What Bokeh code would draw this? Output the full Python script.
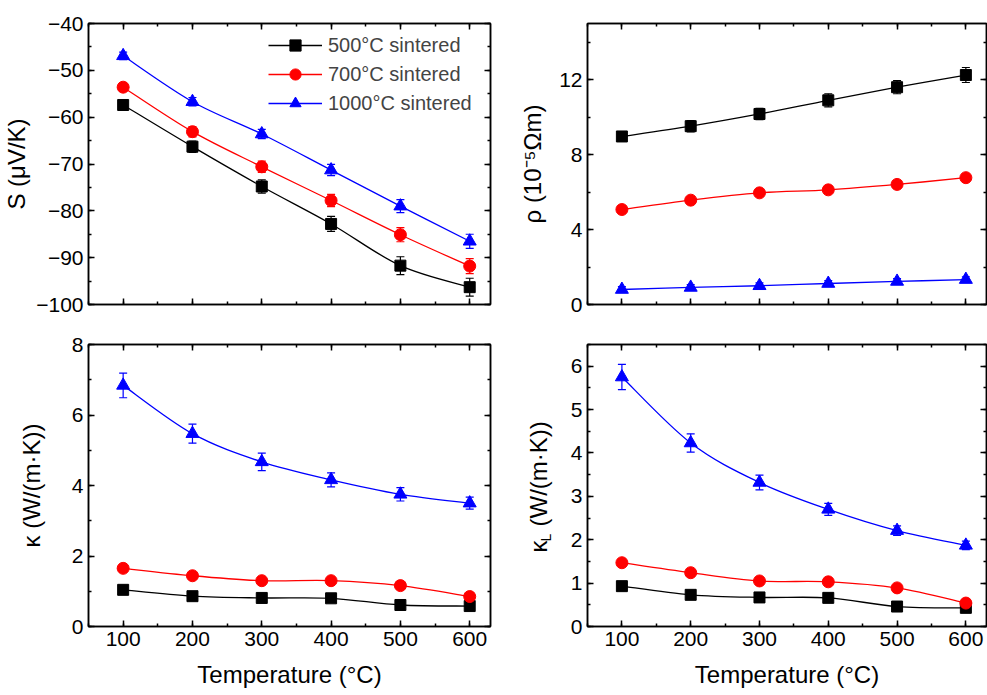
import numpy as np
from bokeh.plotting import figure
from bokeh.layouts import column, row
from bokeh.models import (ColumnDataSource, Whisker, TeeHead, LinearAxis,
                          SingleIntervalTicker, Range1d, Legend, LegendItem, Label)
from bokeh.embed import file_html
from bokeh.resources import INLINE

# ---------------- data ----------------
temps = [100, 200, 300, 400, 500, 600]
series_names = ["500°C sintered", "700°C sintered", "1000°C sintered"]
colors = ["black", "#ff0000", "#0000ff"]
markers = ["square", "circle", "triangle"]
marker_sizes = [11, 12, 13]

S_500 = [-57.4, -66.3, -74.8, -82.8, -91.7, -96.3]
S_700 = [-53.6, -63.1, -70.6, -77.8, -85.1, -91.8]
S_1000 = [-46.9, -56.7, -63.6, -71.3, -79.0, -86.5]
S_500_err = [1.0, 1.2, 1.4, 1.6, 1.9, 1.9]
S_700_err = [0.9, 1.1, 1.2, 1.3, 1.5, 1.6]
S_1000_err = [0.8, 0.9, 1.0, 1.2, 1.4, 1.5]

rho_500 = [8.97, 9.52, 10.17, 10.90, 11.60, 12.25]
rho_700 = [5.07, 5.57, 5.96, 6.12, 6.41, 6.77]
rho_1000 = [0.80, 0.91, 1.00, 1.12, 1.23, 1.33]
rho_500_err = [0.25, 0.30, 0.30, 0.35, 0.35, 0.40]
rho_700_err = [0.10, 0.10, 0.10, 0.10, 0.10, 0.10]
rho_1000_err = [0.15, 0.15, 0.15, 0.15, 0.15, 0.15]

kappa_500 = [1.04, 0.86, 0.81, 0.80, 0.61, 0.58]
kappa_700 = [1.65, 1.44, 1.30, 1.30, 1.16, 0.85]
kappa_1000 = [6.84, 5.47, 4.67, 4.16, 3.75, 3.50]
kappa_500_err = [0.05, 0.05, 0.05, 0.05, 0.05, 0.05]
kappa_700_err = [0.05, 0.05, 0.05, 0.05, 0.05, 0.05]
kappa_1000_err = [0.35, 0.27, 0.25, 0.20, 0.19, 0.17]

kL_500 = [0.93, 0.73, 0.67, 0.66, 0.46, 0.43]
kL_700 = [1.47, 1.24, 1.05, 1.03, 0.89, 0.54]
kL_1000 = [5.75, 4.23, 3.32, 2.70, 2.21, 1.87]
kL_500_err = [0.04, 0.04, 0.04, 0.04, 0.04, 0.04]
kL_700_err = [0.04, 0.04, 0.04, 0.04, 0.04, 0.04]
kL_1000_err = [0.29, 0.21, 0.17, 0.14, 0.11, 0.10]

x_ticks_interval = 100
FONT = "Liberation Sans"


def style_axis(ax, interval, labels=True, label_size="21px"):
    ax.ticker = SingleIntervalTicker(interval=interval, num_minor_ticks=2)
    ax.axis_line_color = "black"
    ax.axis_line_width = 1.5
    ax.major_tick_in = 6
    ax.major_tick_out = 0
    ax.minor_tick_in = 3
    ax.minor_tick_out = 0
    ax.major_tick_line_color = "black"
    ax.minor_tick_line_color = "black"
    ax.major_tick_line_width = 1.5
    ax.minor_tick_line_width = 1.5
    ax.major_label_text_font = FONT
    if labels:
        ax.major_label_text_color = "black"
        ax.major_label_text_font_size = label_size
        ax.major_label_standoff = 5
    else:
        ax.major_label_text_color = None
        ax.major_label_text_font_size = "0px"
        ax.major_label_standoff = 0
    ax.axis_label_text_font = FONT
    ax.axis_label_text_font_size = "24px"
    ax.axis_label_text_font_style = "normal"
    ax.axis_label_text_color = "black"


def make_fig(w, h, yr, yint, borders, xlabels, ylabel, ylabel_standoff, xlabel_standoff=12):
    bl, br, bt, bb = borders
    p = figure(width=w, height=h, x_range=Range1d(50, 630), y_range=Range1d(*yr),
               output_backend="svg", toolbar_location=None,
               min_border_left=bl, min_border_right=br, min_border_top=bt, min_border_bottom=bb)
    p.xgrid.visible = False
    p.ygrid.visible = False
    p.outline_line_color = "black"
    p.outline_line_width = 1.5
    p.background_fill_color = "white"
    p.border_fill_color = "white"
    style_axis(p.xaxis[0], x_ticks_interval, labels=xlabels)
    style_axis(p.yaxis[0], yint)
    if xlabels:
        p.xaxis[0].axis_label = "Temperature (°C)"
        p.xaxis[0].axis_label_standoff = xlabel_standoff
    if ylabel:
        p.yaxis[0].axis_label = ylabel
    p.yaxis[0].axis_label_standoff = ylabel_standoff
    top = LinearAxis()
    style_axis(top, x_ticks_interval, labels=False)
    p.add_layout(top, "above")
    right = LinearAxis()
    style_axis(right, yint, labels=False)
    p.add_layout(right, "right")
    return p


def add_series(p, ys, errs):
    items = []
    for y, e, c, m, ms, name in zip(ys, errs, colors, markers, marker_sizes, series_names):
        xa = np.asarray(temps, float)
        ya = np.asarray(y, float)
        n = len(xa)
        xp = np.concatenate([[xa[0]], xa, [xa[-1]]])
        yp = np.concatenate([[ya[0]], ya, [ya[-1]]])
        cx0 = xa[:-1] + (xp[2:n + 1] - xp[0:n - 1]) / 6.0
        cy0 = ya[:-1] + (yp[2:n + 1] - yp[0:n - 1]) / 6.0
        cx1 = xa[1:] - (xp[3:n + 2] - xp[1:n]) / 6.0
        cy1 = ya[1:] - (yp[3:n + 2] - yp[1:n]) / 6.0
        bez = p.bezier(x0=xa[:-1], y0=ya[:-1], x1=xa[1:], y1=ya[1:],
                       cx0=cx0, cy0=cy0, cx1=cx1, cy1=cy1,
                       line_color=c, line_width=1.3)
        src = ColumnDataSource(dict(x=temps, y=y,
                                    upper=[a + b for a, b in zip(y, e)],
                                    lower=[a - b for a, b in zip(y, e)]))
        wh = Whisker(source=src, base="x", upper="upper", lower="lower",
                     line_color=c, line_width=1.2,
                     upper_head=TeeHead(size=8, line_color=c, line_width=1.2),
                     lower_head=TeeHead(size=8, line_color=c, line_width=1.2))
        p.add_layout(wh)
        sc = p.scatter("x", "y", source=src, marker=m, size=ms,
                       fill_color=c, line_color=c)
        items.append(LegendItem(label=name, renderers=[bez, sc]))
    return items


# Top-left: Seebeck
p1 = make_fig(497, 320, (-100, -40), 10, (88, 7, 23, 16), False, "S (μV/K)", 3)
items = add_series(p1, [S_500, S_700, S_1000], [S_500_err, S_700_err, S_1000_err])
leg = Legend(items=items, location=(180, 187), border_line_color=None,
             background_fill_alpha=0, glyph_width=54, glyph_height=28,
             label_height=28, spacing=1, padding=0, margin=0, label_standoff=6,
             label_text_font=FONT, label_text_font_size="20px")
p1.add_layout(leg)

# Top-right: resistivity
p2 = make_fig(490, 320, (0, 15), 4, (90, 1, 23, 16), False, "ρ (10⁻⁵Ωm)", 10)
add_series(p2, [rho_500, rho_700, rho_1000], [rho_500_err, rho_700_err, rho_1000_err])

# Bottom-left: kappa
p3 = make_fig(497, 375, (0, 8), 2, (88, 7, 24, 69), True, "κ (W/(m·K))", 24)
add_series(p3, [kappa_500, kappa_700, kappa_1000], [kappa_500_err, kappa_700_err, kappa_1000_err])

# Bottom-right: lattice kappa (y-axis title drawn in a narrow side panel for the subscript)
p4 = make_fig(430, 375, (0, 6.5), 1, (30, 1, 24, 69), True, None, 5)
add_series(p4, [kL_500, kL_700, kL_1000], [kL_500_err, kL_700_err, kL_1000_err])

plab = figure(width=60, height=375, x_range=Range1d(0, 1), y_range=Range1d(0, 1),
              x_axis_type=None, y_axis_type=None, output_backend="svg",
              toolbar_location=None, min_border=0, outline_line_color=None)
lab_kw = dict(x_units="screen", y_units="screen", angle=np.pi / 2, text_font=FONT,
              text_color="black", text_align="left", text_baseline="middle")
plab.add_layout(Label(x=41, y=74, text="κ", text_font_size="24px", **lab_kw))
plab.add_layout(Label(x=48, y=85, text="L", text_font_size="14px", **lab_kw))
plab.add_layout(Label(x=41, y=100, text="(W/(m·K))", text_font_size="24px", **lab_kw))

layout = column(row(p1, p2), row(p3, plab, p4))

open("out.html", "w").write(file_html(layout, INLINE))
